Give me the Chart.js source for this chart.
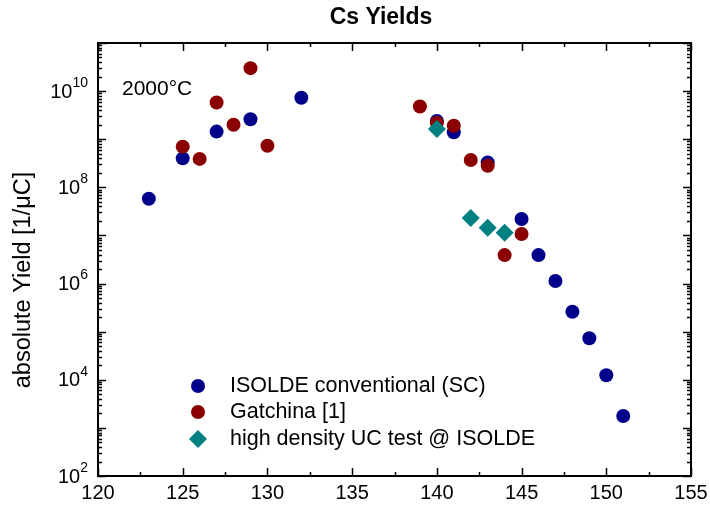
<!DOCTYPE html>
<html>
<head>
<meta charset="utf-8">
<script src="https://cdn.jsdelivr.net/npm/chart.js@4.4.1/dist/chart.umd.min.js"></script>
<style>
  html, body { margin: 0; padding: 0; background: #ffffff; }
  #wrap { width: 710px; height: 505px; }
</style>
</head>
<body>
<div id="wrap"><canvas id="c" width="710" height="505"></canvas></div>
<script>
// ---- data ----
const chartTitle = "Cs Yields";
const yAxisTitle = "absolute Yield [1/\u03BCC]";
const annotation = "2000\u00B0C";

const isoldeMass  = [123, 125, 127, 129, 132, 140, 141, 143, 145, 146, 147, 148, 149, 150, 151];
const isoldeYield = [5.8e7, 4.0e8, 1.44e9, 2.6e9, 7.3e9, 2.4e9, 1.4e9, 3.3e8, 2.2e7, 3.9e6, 1.13e6, 2.6e5, 7.3e4, 1.24e4, 1.77e3];

const gatchinaMass  = [125, 126, 127, 128, 129, 130, 139, 140, 141, 142, 143, 144, 145];
const gatchinaYield = [7.0e8, 3.9e8, 5.8e9, 2.0e9, 3.0e10, 7.3e8, 4.8e9, 2.2e9, 1.9e9, 3.7e8, 2.8e8, 3.9e6, 1.07e7];

const ucMass  = [140, 142, 143, 144];
const ucYield = [1.64e9, 2.3e7, 1.45e7, 1.14e7];

const seriesLabels = ["ISOLDE conventional (SC)", "Gatchina [1]", "high density UC test @ ISOLDE"];

const xTickValues = [120, 125, 130, 135, 140, 145, 150, 155];
const xMinorTickValues = [122.5, 127.5, 132.5, 137.5, 142.5, 147.5, 152.5];
const yDecadeExponents = [2, 3, 4, 5, 6, 7, 8, 9, 10, 11];
const yLabelExponents = [2, 4, 6, 8, 10];

// ---- chart ----
const FONT = '"Liberation Sans", Arial, Helvetica, sans-serif';
const toPts = (xs, ys) => xs.map((x, i) => ({ x: x, y: ys[i] }));

const colors = ["#00008B", "#8B0000", "#008080"];

const decor = {
  id: 'decor',
  afterDraw(chart) {
    const ctx = chart.ctx;
    const xs = chart.scales.x, ys = chart.scales.y;
    const a = chart.chartArea;
    ctx.save();
    ctx.strokeStyle = '#000';
    ctx.lineWidth = 2;
    ctx.strokeRect(a.left, a.top, a.right - a.left, a.bottom - a.top);

    // x ticks (bottom and top, inside)
    ctx.lineWidth = 1.5;
    ctx.beginPath();
    xTickValues.forEach(v => {
      const px = Math.round(xs.getPixelForValue(v)) + 0.5;
      ctx.moveTo(px, a.bottom); ctx.lineTo(px, a.bottom - 8);
      ctx.moveTo(px, a.top); ctx.lineTo(px, a.top + 8);
    });
    xMinorTickValues.forEach(v => {
      const px = Math.round(xs.getPixelForValue(v)) + 0.5;
      ctx.moveTo(px, a.bottom); ctx.lineTo(px, a.bottom - 4);
      ctx.moveTo(px, a.top); ctx.lineTo(px, a.top + 4);
    });
    // y ticks (left and right, inside)
    yDecadeExponents.forEach(e => {
      const py = Math.round(ys.getPixelForValue(Math.pow(10, e))) + 0.5;
      ctx.moveTo(a.left, py); ctx.lineTo(a.left + 8, py);
      ctx.moveTo(a.right, py); ctx.lineTo(a.right - 8, py);
      if (e < 11) {
        for (let k = 2; k <= 9; k++) {
          const q = Math.round(ys.getPixelForValue(k * Math.pow(10, e))) + 0.5;
          ctx.moveTo(a.left, q); ctx.lineTo(a.left + 4, q);
          ctx.moveTo(a.right, q); ctx.lineTo(a.right - 4, q);
        }
      }
    });
    ctx.stroke();

    ctx.fillStyle = '#000';
    // x tick labels
    ctx.font = '20px ' + FONT;
    ctx.textAlign = 'center';
    ctx.textBaseline = 'middle';
    xTickValues.forEach(v => {
      ctx.fillText(String(v), xs.getPixelForValue(v), a.bottom + 17);
    });

    // y tick labels 10^n
    yLabelExponents.forEach(e => {
      const py = ys.getPixelForValue(Math.pow(10, e));
      const sup = String(e);
      ctx.font = '14px ' + FONT;
      const wSup = ctx.measureText(sup).width;
      const right = a.left - 10;
      ctx.textAlign = 'left';
      ctx.textBaseline = 'middle';
      ctx.fillText(sup, right - wSup, py - 8);
      ctx.font = '20px ' + FONT;
      ctx.textAlign = 'right';
      ctx.fillText('10', right - wSup, py + 1);
    });

    // title
    ctx.font = 'bold 23px ' + FONT;
    ctx.textAlign = 'center';
    ctx.textBaseline = 'middle';
    ctx.fillText(chartTitle, 381, 18);

    // y axis title
    ctx.save();
    ctx.translate(24, 280);
    ctx.rotate(-Math.PI / 2);
    ctx.font = '23.5px ' + FONT;
    ctx.textAlign = 'center';
    ctx.textBaseline = 'middle';
    ctx.fillText(yAxisTitle, 0, 0);
    ctx.restore();

    // annotation
    ctx.font = '21px ' + FONT;
    ctx.textAlign = 'left';
    ctx.textBaseline = 'middle';
    ctx.fillText(annotation, 122, 89);

    // legend
    const legendY = [386, 412, 439];
    chart.data.datasets.forEach((ds, i) => {
      const cy = legendY[i];
      ctx.fillStyle = ds.backgroundColor;
      ctx.beginPath();
      if (ds.pointStyle === 'rectRot') {
        const r = ds.pointRadius;
        ctx.moveTo(198, cy - r); ctx.lineTo(198 + r, cy); ctx.lineTo(198, cy + r); ctx.lineTo(198 - r, cy);
        ctx.closePath();
      } else {
        ctx.arc(198, cy, ds.pointRadius, 0, Math.PI * 2);
      }
      ctx.fill();
      ctx.fillStyle = '#000';
      ctx.font = '21.5px ' + FONT;
      ctx.fillText(ds.label, 230, cy);
    });
    ctx.restore();
  }
};

new Chart(document.getElementById('c'), {
  type: 'scatter',
  data: {
    datasets: [
      { label: seriesLabels[0], data: toPts(isoldeMass, isoldeYield), backgroundColor: colors[0], borderWidth: 0, pointRadius: 7, pointStyle: 'circle', order: 2 },
      { label: seriesLabels[1], data: toPts(gatchinaMass, gatchinaYield), backgroundColor: colors[1], borderWidth: 0, pointRadius: 7, pointStyle: 'circle', order: 1 },
      { label: seriesLabels[2], data: toPts(ucMass, ucYield), backgroundColor: colors[2], borderWidth: 0, pointRadius: 9, pointStyle: 'rectRot', order: 0 }
    ]
  },
  options: {
    responsive: false,
    animation: false,
    layout: { padding: { left: 98, top: 43, right: 19, bottom: 29 } },
    plugins: { legend: { display: false }, title: { display: false }, tooltip: { enabled: false } },
    scales: {
      x: { type: 'linear', min: 120, max: 155, display: false },
      y: { type: 'logarithmic', min: 100, max: 1e11, display: false }
    }
  },
  plugins: [decor]
});
</script>
</body>
</html>
